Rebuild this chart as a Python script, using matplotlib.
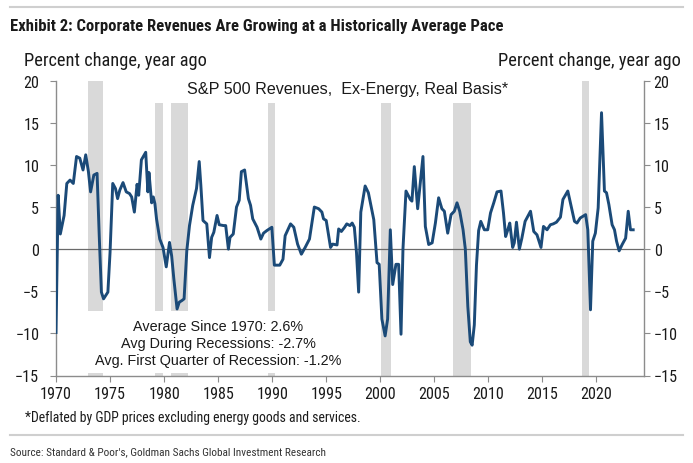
import os
import matplotlib
matplotlib.use('Agg')
import matplotlib.pyplot as plt
from matplotlib import font_manager
from matplotlib.font_manager import FontProperties
from matplotlib.patches import Rectangle
from matplotlib.lines import Line2D

# S&P 500 revenues ex-energy, real basis, % change year ago
years = [1970.0, 1970.2, 1970.4, 1970.75, 1971.0, 1971.3, 1971.6, 1971.9, 1972.2, 1972.5,
         1972.75, 1973.0, 1973.2, 1973.5, 1973.8, 1974.0, 1974.2, 1974.4, 1974.8, 1975.0,
         1975.25, 1975.5, 1975.7, 1975.9, 1976.2, 1976.5, 1976.8, 1977.0, 1977.25, 1977.5,
         1977.65, 1977.9, 1978.3, 1978.5, 1978.6, 1978.85, 1979.0, 1979.15, 1979.3, 1979.6,
         1979.9, 1980.2, 1980.5, 1980.7, 1980.9, 1981.2, 1981.4, 1981.65, 1981.85, 1982.1,
         1982.35, 1982.65, 1983.0, 1983.25, 1983.4, 1983.6, 1983.95, 1984.2, 1984.4, 1984.6,
         1984.9, 1985.1, 1985.5, 1985.7, 1985.95, 1986.1, 1986.4, 1986.7, 1986.95, 1987.15,
         1987.45, 1987.8, 1988.0, 1988.2, 1988.6, 1988.95, 1989.2, 1989.5, 1989.97, 1990.2,
         1990.7, 1991.0, 1991.2, 1991.7, 1992.0, 1992.35, 1992.7, 1993.05, 1993.45, 1993.9,
         1994.3, 1994.6, 1994.75, 1995.0, 1995.4, 1995.6, 1996.0, 1996.15, 1996.4, 1996.7,
         1996.9, 1997.2, 1997.4, 1997.6, 1997.8, 1998.0, 1998.2, 1998.6, 1998.9, 1999.4,
         1999.7, 1999.9, 2000.15, 2000.45, 2000.68, 2000.93, 2001.15, 2001.45, 2001.7, 2001.92,
         2002.1, 2002.38, 2002.78, 2002.93, 2003.15, 2003.46, 2003.7, 2003.95, 2004.17, 2004.48,
         2004.8, 2005.1, 2005.4, 2005.7, 2005.93, 2006.24, 2006.55, 2006.85, 2007.1, 2007.35,
         2007.66, 2007.87, 2008.1, 2008.33, 2008.5, 2008.7, 2008.9, 2009.1, 2009.3, 2009.63,
         2009.94, 2010.2, 2010.5, 2010.8, 2011.17, 2011.4, 2011.6, 2011.8, 2011.98, 2012.25,
         2012.4, 2012.6, 2012.87, 2013.1, 2013.4, 2013.9, 2014.2, 2014.5, 2014.87, 2015.1,
         2015.43, 2015.74, 2016.0, 2016.3, 2016.67, 2016.9, 2017.35, 2017.66, 2017.97, 2018.2,
         2018.5, 2019.0, 2019.2, 2019.45, 2019.66, 2019.9, 2020.16, 2020.47, 2020.74, 2020.93,
         2021.15, 2021.45, 2021.67, 2021.86, 2022.1, 2022.38, 2022.7, 2022.94, 2023.15, 2023.4]
revenues = [-9.9, 6.4, 1.8, 4.0, 7.8, 8.2, 7.8, 11.0, 10.8, 9.4,
            11.2, 9.2, 6.8, 8.8, 9.0, 1.6, -5.1, -5.9, -5.1, -0.4,
            7.8, 7.2, 6.0, 7.0, 7.9, 6.8, 6.6, 6.2, 4.4, 7.7,
            6.4, 10.6, 11.5, 6.8, 9.1, 5.5, 6.2, 5.4, 3.6, 1.2,
            0.2, -2.1, 0.8, -0.8, -3.5, -7.1, -6.3, -6.1, -5.9, -0.2,
            2.8, 5.2, 7.2, 10.4, 7.6, 3.4, 3.0, -1.0, 1.4, 2.0,
            4.0, 2.9, 2.8, 2.8, 0.0, 1.4, 1.8, 5.0, 5.8, 9.2,
            9.4, 6.0, 5.2, 3.6, 2.6, 1.2, 1.9, 2.2, 2.6, -1.9,
            -1.9, -1.2, 1.6, 3.0, 2.6, 0.6, -0.6, 0.2, 1.2, 5.0,
            4.8, 4.4, 3.6, 3.4, 0.2, 0.6, 0.5, 2.4, 2.1, 2.6,
            3.0, 2.8, 3.1, 2.6, -0.4, -5.1, 4.4, 7.5, 6.7, 3.5,
            -1.6, -1.8, -8.3, -10.3, -8.3, 2.3, -4.2, -1.8, -1.8, -10.1,
            0.0, 6.9, 5.9, 5.7, 9.8, 4.8, 7.9, 11.0, 2.7, 0.55,
            0.75, 3.1, 6.1, 4.8, 4.5, 1.9, 4.1, 4.5, 5.5, 4.5,
            2.3, 0.0, -6.8, -11.0, -11.4, -9.0, -1.9, 2.2, 3.3, 2.3,
            2.3, 4.3, 5.5, 6.8, 6.9, 4.3, 1.5, 2.3, 3.1, 0.2,
            0.75, 3.2, 0.0, 1.3, 3.3, 4.5, 2.1, 1.7, 0.2, 2.7,
            2.3, 2.9, 3.0, 3.2, 3.8, 5.9, 6.9, 5.1, 3.3, 3.1,
            3.7, 4.1, 2.3, -7.2, 0.95, 1.9, 4.9, 16.2, 6.9, 6.7,
            5.3, 2.9, 2.3, 0.95, -0.2, 0.55, 1.3, 4.5, 2.3, 2.3]

rec_start = [1972.99, 1979.17, 1980.6, 1989.57, 2000.06, 2006.73, 2018.68]
rec_end = [1974.38, 1979.94, 1982.2, 1990.28, 2001.0, 2008.4, 2019.3]

x_ticks = list(range(1970, 2021, 5))
y_ticks = list(range(-15, 21, 5))

notes = ['Average Since 1970: 2.6%',
         'Avg During Recessions: -2.7%',
         'Avg. First Quarter of Recession: -1.2%']

plt.rcParams['font.family'] = ['Liberation Sans', 'DejaVu Sans']


def pick(files):
    by_name = {os.path.basename(f.fname): f.fname for f in font_manager.fontManager.ttflist}
    for fn in files:
        if fn in by_name:
            return by_name[fn]
    return None


narrow_reg = pick(['LiberationSansNarrow-Regular.ttf', 'RobotoCondensed-Regular.ttf',
                   'DejaVuSansCondensed.ttf'])
narrow_bold = pick(['LiberationSansNarrow-Bold.ttf', 'RobotoCondensed-Bold.ttf',
                    'DejaVuSansCondensed-Bold.ttf'])


def fp(bold=False, narrow=True):
    path = narrow_bold if bold else narrow_reg
    if narrow and path:
        return FontProperties(fname=path, size=11)
    return FontProperties(family='Liberation Sans', weight='bold' if bold else 'normal', size=11)


def fit(txt, width_px, renderer):
    # scale the font so the text spans the width measured on the reference
    w = txt.get_window_extent(renderer).width
    txt.set_fontsize(txt.get_fontsize() * width_px / w)


navy = '#1b4a78'
grey = '#8c8c8c'
ink = '#1a1a1a'

fig = plt.figure(figsize=(6.93, 4.64), dpi=100)
renderer = fig.canvas.get_renderer()
ax = fig.add_axes([56 / 693, 1 - 376.5 / 464, 588 / 693, 294.8 / 464])
ax.set_xlim(1970, 2024.4)
ax.set_ylim(-15, 20)

for s, e in zip(rec_start, rec_end):
    ax.axvspan(s, e, color='#d9d9d9', lw=0, zorder=1)

# white boxes behind the text blocks (they cut the recession bars)
ax.add_patch(Rectangle((1979.0, 17.4), 36.0, 3.0, facecolor='white', lw=0, zorder=2, clip_on=False))
ax.add_patch(Rectangle((1972.5, -14.75), 22.5, 7.35, facecolor='white', lw=0, zorder=2))

ax.axhline(0, color='#6a6a6a', lw=0.9, zorder=3)
ax.plot(years, revenues, color=navy, lw=2.1, zorder=4, solid_joinstyle='round')

t = ax.text(1997.0, 19.05, 'S&P 500 Revenues,  Ex-Energy, Real Basis*', ha='center', va='center',
            fontproperties=fp(narrow=False), color=ink, zorder=5)
fit(t, 320, renderer)

note_texts = []
for i, line in enumerate(notes):
    nt = ax.text(1985.0, -9.15 - 1.98 * i, line, ha='center', va='center',
                 fontproperties=fp(narrow=False), color=ink, zorder=5)
    note_texts.append(nt)
fit(note_texts[2], 246, renderer)
for nt in note_texts[:2]:
    nt.set_fontsize(note_texts[2].get_fontsize())

for side in ['top', 'right']:
    ax.spines[side].set_visible(False)
for side in ['left', 'bottom']:
    ax.spines[side].set_color(grey)
    ax.spines[side].set_linewidth(1.0)

ax2 = ax.twinx()
ax2.set_ylim(-15, 20)
for side in ['top', 'left', 'bottom']:
    ax2.spines[side].set_visible(False)
ax2.spines['right'].set_color(grey)
ax2.spines['right'].set_linewidth(1.0)

ax.set_xticks(x_ticks)
ax.set_yticks(y_ticks)
ax2.set_yticks(y_ticks)
ax.tick_params(axis='x', direction='out', length=4, color=grey, pad=3.5, labelcolor=ink)
ax.tick_params(axis='y', direction='out', length=4, color=grey, pad=8, labelcolor=ink)
ax2.tick_params(axis='y', direction='out', length=4, color=grey, pad=3, labelcolor=ink)

probe = fig.text(0, 0, '1970', fontproperties=fp())
fit(probe, 32, renderer)
tick_size = probe.get_fontsize()
probe.remove()
for lab in ax.get_xticklabels() + ax.get_yticklabels() + ax2.get_yticklabels():
    lab.set_fontproperties(fp())
    lab.set_fontsize(tick_size)

for xpos, ha in [(24 / 693, 'left'), (681 / 693, 'right')]:
    lt = fig.text(xpos, 1 - 61 / 464, 'Percent change, year ago', ha=ha, va='center',
                  fontproperties=fp(), color=ink)
    fit(lt, 182, renderer)

tt = fig.text(10 / 693, 1 - 27 / 464, 'Exhibit 2: Corporate Revenues Are Growing at a Historically Average Pace',
              ha='left', va='center', fontproperties=fp(bold=True), color=ink)
fit(tt, 490, renderer)

fig.add_artist(Line2D([10 / 693, 683 / 693], [1 - 7.5 / 464] * 2, color='#cfcfcf', lw=1.5))
fig.add_artist(Line2D([10 / 693, 683 / 693], [1 - 436 / 464] * 2, color='#cfcfcf', lw=1.5))

ft = fig.text(25 / 693, 1 - 418 / 464, '*Deflated by GDP prices excluding energy goods and services.',
              ha='left', va='center', fontproperties=fp(), color=ink)
fit(ft, 335, renderer)
st = fig.text(10 / 693, 1 - 452 / 464, "Source: Standard & Poor's, Goldman Sachs Global Investment Research",
              ha='left', va='center', fontproperties=fp(), color='#333333')
fit(st, 315, renderer)

fig.savefig('out.png', dpi=100)
